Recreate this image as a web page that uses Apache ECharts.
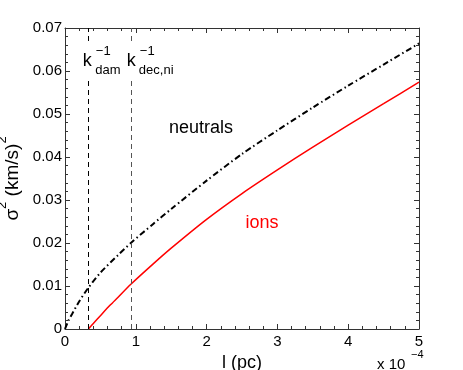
<!DOCTYPE html>
<html>
<head>
<meta charset="utf-8">
<script src="https://cdn.jsdelivr.net/npm/echarts@6/dist/echarts.min.js"></script>
<style>
  html, body { margin: 0; padding: 0; background: #fff; }
  #chart { width: 463px; height: 370px; }
</style>
</head>
<body>
<div id="chart"></div>
<script>
// l in units of 1e-4 pc, sigma^2 in (km/s)^2
var neutralsX = [0, 0.05, 0.1, 0.2, 0.33, 0.5, 0.75, 0.93, 1.25, 1.5, 2, 2.5, 3, 3.5, 4, 4.5, 5];
var neutralsY = [0, 0.002, 0.0035, 0.0064, 0.0096, 0.0131, 0.0172, 0.02, 0.0245, 0.0279, 0.0345, 0.0407, 0.0462, 0.0515, 0.0566, 0.0615, 0.0664];
var ionsX = [0.33, 0.4, 0.5, 0.635, 0.75, 0.93, 1.25, 1.5, 2, 2.5, 3, 3.5, 4, 4.5, 5];
var ionsY = [0, 0.0013, 0.0031, 0.0055, 0.0074, 0.0104, 0.0152, 0.0188, 0.0255, 0.0315, 0.037, 0.0423, 0.0474, 0.0524, 0.0574];
var kDam = 0.33;
var kDec = 0.93;
var xTickLabels = ['0', '1', '2', '3', '4', '5'];
var yTickLabels = ['0', '0.01', '0.02', '0.03', '0.04', '0.05', '0.06', '0.07'];

var FONT = 'Liberation Sans, Arial, Helvetica, sans-serif';
var AXC = '#333';

function pairs(xs, ys) {
  var out = [];
  for (var i = 0; i < xs.length; i++) out.push([xs[i], ys[i]]);
  return out;
}

function axisX(pos, labels) {
  return {
    type: 'value', position: pos, min: 0, max: 5, interval: 1,
    axisLine: { show: true, onZero: false, lineStyle: { color: AXC, width: 1 } },
    axisTick: { show: true, inside: true, length: 5, lineStyle: { color: AXC } },
    minorTick: { show: true, splitNumber: 5, length: 3, lineStyle: { color: AXC } },
    splitLine: { show: false },
    axisLabel: {
      show: labels, margin: 5, color: '#000', fontSize: 15, fontFamily: FONT,
      formatter: function (v) { return xTickLabels[Math.round(v)]; }
    }
  };
}

function axisY(pos, labels) {
  return {
    type: 'value', position: pos, min: 0, max: 0.07, interval: 0.01,
    axisLine: { show: true, onZero: false, lineStyle: { color: AXC, width: 1 } },
    axisTick: { show: true, inside: true, length: 5, lineStyle: { color: AXC } },
    minorTick: { show: true, splitNumber: 5, length: 3, lineStyle: { color: AXC } },
    splitLine: { show: false },
    axisLabel: {
      show: labels, margin: 3, color: '#000', fontSize: 15, fontFamily: FONT,
      formatter: function (v) { return yTickLabels[Math.round(v * 100)]; }
    }
  };
}

var chart = echarts.init(document.getElementById('chart'));

var xb = axisX('bottom', true);
xb.name = 'l (pc)';
xb.nameLocation = 'middle';
xb.nameGap = 25;
xb.nameTextStyle = { color: '#000', fontSize: 18, fontFamily: FONT };

var yl = axisY('left', true);
yl.name = '{a|σ}{s|2}{a| (km/s)}{s|2}';
yl.nameLocation = 'middle';
yl.nameGap = 33;
yl.nameTextStyle = {
  color: '#000', fontFamily: FONT,
  rich: {
    a: { fontSize: 19, lineHeight: 26, verticalAlign: 'bottom', fontFamily: FONT, color: '#000' },
    s: { fontSize: 13, lineHeight: 26, verticalAlign: 'top', fontFamily: FONT, color: '#000' }
  }
};

chart.setOption({
  animation: false,
  backgroundColor: '#fff',
  grid: { left: 65, right: 44, top: 28, bottom: 41, containLabel: false, outerBoundsMode: 'none' },
  xAxis: [xb, axisX('top', false)],
  yAxis: [yl, axisY('right', false)],
  series: [
    {
      name: 'neutrals', type: 'line', showSymbol: false, symbol: 'none',
      smooth: 0.25,
      data: pairs(neutralsX, neutralsY),
      lineStyle: { color: '#000', width: 2, type: [6, 3, 1.5, 3] },
      markLine: {
        silent: true, symbol: ['none', 'none'], label: { show: false },
        lineStyle: { type: [5, 4], width: 1 },
        data: [
          { xAxis: kDam, lineStyle: { color: '#000', type: [5, 4], width: 1 } },
          { xAxis: kDec, lineStyle: { color: '#555', type: [5, 4], width: 1 } }
        ]
      }
    },
    {
      name: 'ions', type: 'line', showSymbol: false, symbol: 'none',
      smooth: 0.25,
      data: pairs(ionsX, ionsY),
      lineStyle: { color: '#ff0000', width: 1.5, type: 'solid' }
    }
  ]
});

var L1 = chart.convertToPixel({ gridIndex: 0 }, [kDam, 0])[0];
var L2 = chart.convertToPixel({ gridIndex: 0 }, [kDec, 0])[0];
var pN = chart.convertToPixel({ gridIndex: 0 }, [1.47, 0.0468]);
var pI = chart.convertToPixel({ gridIndex: 0 }, [2.55, 0.0247]);
var pR = chart.convertToPixel({ gridIndex: 0 }, [5, 0]);

function txt(x, y, s, size, color) {
  return {
    type: 'text', x: x, y: y, z: 101,
    style: { text: s, fontSize: size, fontFamily: FONT, fill: color || '#000', verticalAlign: 'middle', align: 'left' }
  };
}

chart.setOption({
  graphic: [
    { type: 'rect', z: 100, shape: { x: L1 - 4, y: 44, width: L2 - L1 + 50, height: 35 }, style: { fill: '#fff' } },
    txt(L1 - 5.5, 61, 'k', 18),
    txt(L1 + 7.5, 51, '−1', 13),
    txt(L1 + 7, 70, 'dam', 13),
    txt(L2 - 4, 61, 'k', 18),
    txt(L2 + 9, 51, '−1', 13),
    txt(L2 + 8, 70, 'dec,ni', 13),
    txt(pN[0], pN[1], 'neutrals', 18),
    txt(pI[0], pI[1], 'ions', 18, '#ff0000'),
    txt(pR[0] - 42, 365, 'x 10', 15),
    txt(pR[0] - 8, 355, '−4', 11)
  ]
});
</script>
</body>
</html>
